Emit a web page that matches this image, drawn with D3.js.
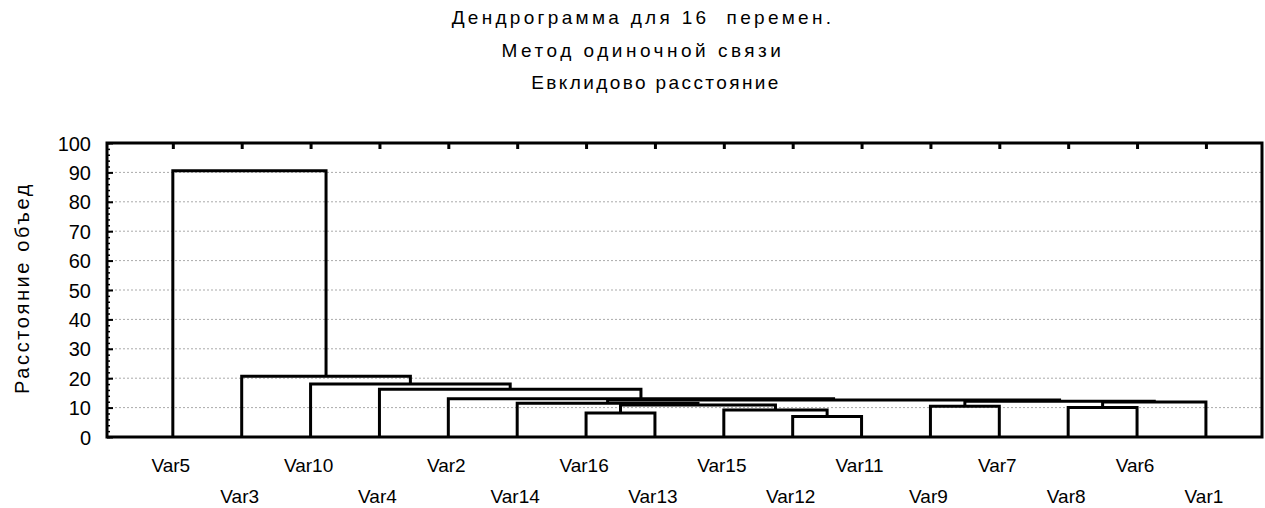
<!DOCTYPE html>
<html>
<head>
<meta charset="utf-8">
<script src="https://cdn.jsdelivr.net/npm/d3@7"></script>
<style>
  body { margin: 0; background: #fff; }
  text { font-family: Arial, "Liberation Sans", sans-serif; fill: #000; white-space: pre; }
</style>
</head>
<body>
<svg id="chart" width="1265" height="508"></svg>
<script>
// leaf order along the bottom
const leaves = ["Var5","Var3","Var10","Var4","Var2","Var14","Var16","Var13",
                "Var15","Var12","Var11","Var9","Var7","Var8","Var6","Var1"];

// merges M1..M15 (single linkage)
const mergeLeft   = ["Var12","Var16","Var15","Var8","Var9","M2","Var14","M4","M5","M7","Var2","Var4","Var10","Var3","Var5"];
const mergeRight  = ["Var11","Var13","M1","Var6","Var7","M3","M6","Var1","M8","M9","M10","M11","M12","M13","M14"];
const mergeHeight = [7.0, 8.2, 9.2, 10.0, 10.5, 10.9, 11.5, 11.9, 12.2, 12.6, 13.0, 16.2, 18.0, 20.7, 90.6];

const yTicks = [0,10,20,30,40,50,60,70,80,90,100];
const titles = ["Дендрограмма для 16  перемен.", "Метод одиночной связи", "Евклидово расстояние"];
const yTitle = "Расстояние объед";

const plotL = 107, plotR = 1262, plotT = 143, plotB = 437;
const svg = d3.select("#chart");

const x = d3.scalePoint().domain(leaves).range([plotL, plotR]).padding(0.885).align(0.54);
const y = d3.scaleLinear().domain([0, 100]).range([plotB, plotT]);

// titles
const titleSpacing = [3.3, 3.5, 2.4];
svg.selectAll(".title")
    .data(titles)
    .join("text")
    .attr("x", (d, i) => i == 2 ? 656 : 643)
    .attr("y", (d, i) => 24 + i * 32.5)
    .attr("text-anchor", "middle")
    .attr("font-size", 19)
    .attr("letter-spacing", (d, i) => titleSpacing[i])
    .text(d => d);

// dotted grid
svg.append("g")
    .selectAll("line")
    .data(yTicks.filter(d => d > 0 && d < 100))
    .join("line")
    .attr("x1", plotL).attr("x2", plotR)
    .attr("y1", d => y(d)).attr("y2", d => y(d))
    .attr("stroke", "#aaa")
    .attr("stroke-width", 1)
    .attr("stroke-dasharray", "2,2");

// left axis with minor ticks inside
const yAxis = svg.append("g").attr("transform", `translate(${plotL},0)`);
yAxis.call(d3.axisRight(y).tickValues(d3.range(0, 101, 2)).tickSize(3).tickFormat(""))
    .call(g => g.select(".domain").remove())
    .call(g => g.selectAll(".tick line").attr("stroke-width", 1.5));
yAxis.call(g => g.append("g")
        .call(d3.axisRight(y).tickValues(yTicks).tickSize(6).tickFormat(""))
        .call(a => a.select(".domain").remove())
        .call(a => a.selectAll(".tick line").attr("stroke-width", 2)));

svg.append("g")
    .selectAll("text")
    .data(yTicks)
    .join("text")
    .attr("x", 91)
    .attr("y", d => y(d) + 7.5)
    .attr("text-anchor", "end")
    .attr("font-size", 20)
    .text(d => d);

svg.append("text")
    .attr("transform", `translate(29,${(plotT + plotB) / 2 - 2}) rotate(-90)`)
    .attr("text-anchor", "middle")
    .attr("font-size", 20)
    .attr("letter-spacing", 2.6)
    .text(yTitle);

// top ticks at the leaves
svg.append("g")
    .attr("transform", `translate(0,${plotT})`)
    .call(d3.axisBottom(x).tickSize(6).tickFormat(""))
    .call(g => g.select(".domain").remove())
    .call(g => g.selectAll(".tick line").attr("stroke-width", 3));

// frame
svg.append("rect")
    .attr("x", plotL).attr("y", plotT)
    .attr("width", plotR - plotL).attr("height", plotB - plotT)
    .attr("fill", "none").attr("stroke", "#000").attr("stroke-width", 3);

// dendrogram
const pos = {};
leaves.forEach(l => pos[l] = {x: x(l), h: 0});
const links = [];
mergeHeight.forEach((h, i) => {
    const a = pos[mergeLeft[i]], b = pos[mergeRight[i]];
    links.push([[a.x, a.h], [a.x, h], [b.x, h], [b.x, b.h]]);
    pos["M" + (i + 1)] = {x: (a.x + b.x) / 2, h: h};
});

svg.append("g")
    .selectAll("path")
    .data(links)
    .join("path")
    .attr("d", d => d3.line().x(p => p[0]).y(p => y(p[1]))(d))
    .attr("fill", "none")
    .attr("stroke", "#000")
    .attr("stroke-width", 3)
    .attr("stroke-linejoin", "miter");

// alternating leaf labels
svg.append("g")
    .selectAll("text")
    .data(leaves)
    .join("text")
    .attr("x", d => x(d) - 2)
    .attr("y", (d, i) => i % 2 == 0 ? 472 : 503)
    .attr("text-anchor", "middle")
    .attr("font-size", 19)
    .text(d => d);
</script>
</body>
</html>
